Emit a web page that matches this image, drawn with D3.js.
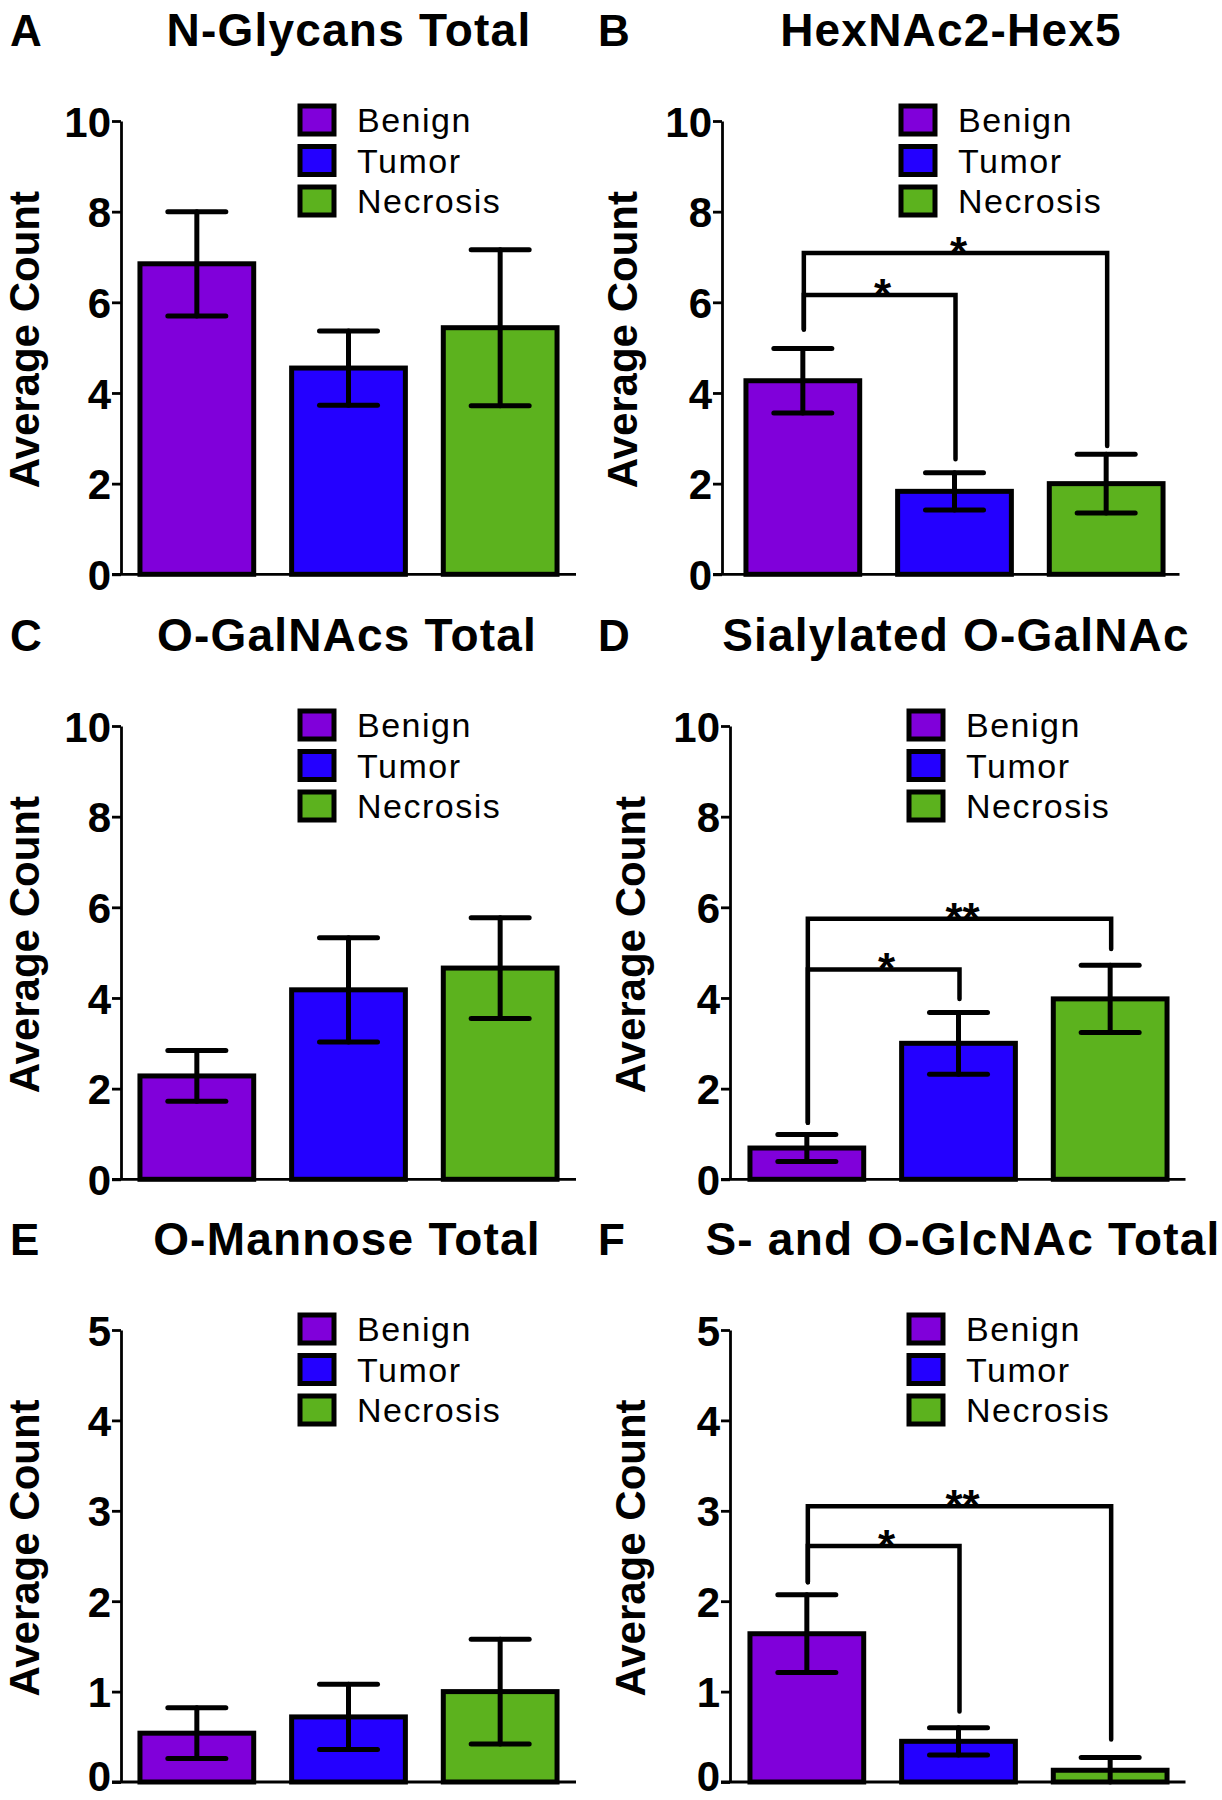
<!DOCTYPE html>
<html>
<head>
<meta charset="utf-8">
<script src="https://cdn.jsdelivr.net/npm/d3@7"></script>
<style>
  html, body { margin: 0; padding: 0; background: #fff; }
  svg text { font-family: "Liberation Sans", Arial, sans-serif; fill: #000; }
</style>
</head>
<body>
<svg id="chart" width="1222" height="1800"></svg>
<script>
// ---------- data ----------
const groups = ["Benign", "Tumor", "Necrosis"];
const groupColors = ["#8000da", "#2400ff", "#5cb21e"];

const panelLetters = ["A", "B", "C", "D", "E", "F"];
const panelTitles = ["N-Glycans Total", "HexNAc2-Hex5", "O-GalNAcs Total",
                     "Sialylated O-GalNAc", "O-Mannose Total", "S- and O-GlcNAc Total"];

const ticks10 = [0, 2, 4, 6, 8, 10];
const ticks5 = [0, 1, 2, 3, 4, 5];

const nGlycansMean = [6.85, 4.55, 5.44];
const nGlycansSem  = [1.15, 0.82, 1.72];

const hexNAc2Hex5Mean = [4.27, 1.83, 2.00];
const hexNAc2Hex5Sem  = [0.71, 0.41, 0.65];

const oGalNAcsMean = [2.28, 4.18, 4.66];
const oGalNAcsSem  = [0.56, 1.15, 1.11];

const sialylMean = [0.69, 3.00, 3.98];
const sialylSem  = [0.30, 0.68, 0.74];

const oMannoseMean = [0.54, 0.72, 1.00];
const oMannoseSem  = [0.28, 0.36, 0.58];

const glcNAcMean = [1.64, 0.45, 0.13];
const glcNAcSem  = [0.43, 0.15, 0.14];

// significance brackets: [fromGroup, toGroup, bracketY, leftLegEnd, rightLegEnd, label]
const bracketsB = [[0, 1, 6.16, 5.40, 2.54, "*"], [0, 2, 7.09, 5.40, 2.83, "*"]];
const bracketsD = [[0, 1, 4.63, 1.25, 3.98, "*"], [0, 2, 5.75, 1.25, 5.08, "**"]];
const bracketsF = [[0, 1, 2.61, 2.21, 0.78, "*"], [0, 2, 3.05, 2.21, 0.47, "**"]];

// ---------- layout ----------
const panels = [
  { mean: nGlycansMean,    sem: nGlycansSem,    ticks: ticks10, brackets: [],        ax: 121, barShift: 0, yTop: 121,  yBot: 574.3,  titleX: 349, titleY: 46,   letterX: 10 },
  { mean: hexNAc2Hex5Mean, sem: hexNAc2Hex5Sem, ticks: ticks10, brackets: bracketsB, ax: 722, barShift: 5, yTop: 121,  yBot: 574.3,  titleX: 951, titleY: 46,   letterX: 598 },
  { mean: oGalNAcsMean,    sem: oGalNAcsSem,    ticks: ticks10, brackets: [],        ax: 121, barShift: 0, yTop: 726,  yBot: 1179.3, titleX: 347, titleY: 651,  letterX: 10 },
  { mean: sialylMean,      sem: sialylSem,      ticks: ticks10, brackets: bracketsD, ax: 730, barShift: 1, yTop: 726,  yBot: 1179.3, titleX: 956, titleY: 651,  letterX: 598 },
  { mean: oMannoseMean,    sem: oMannoseSem,    ticks: ticks5,  brackets: [],        ax: 121, barShift: 0, yTop: 1330, yBot: 1782,   titleX: 347, titleY: 1255, letterX: 10 },
  { mean: glcNAcMean,      sem: glcNAcSem,      ticks: ticks5,  brackets: bracketsF, ax: 730, barShift: 1, yTop: 1330, yBot: 1782,   titleX: 963, titleY: 1255, letterX: 598 }
];

const axisWidth = 455;
const svg = d3.select("#chart");

panels.forEach((p, i) => {
  const g = svg.append("g");
  const x = d3.scaleBand().domain(groups)
    .range([p.ax + p.barShift, p.ax + p.barShift + axisWidth])
    .paddingInner(0.25).paddingOuter(0.125);
  const yMax = d3.max(p.ticks);
  const y = d3.scaleLinear().domain([0, yMax]).range([p.yBot, p.yTop]);

  // panel letter and title
  g.append("text").attr("x", p.letterX).attr("y", p.titleY)
    .attr("font-size", 44).attr("font-weight", "bold").text(panelLetters[i]);
  g.append("text").attr("x", p.titleX).attr("y", p.titleY)
    .attr("text-anchor", "middle").attr("font-size", 46).attr("font-weight", "bold")
    .attr("letter-spacing", 1.2).text(panelTitles[i]);

  // y axis label
  const labelX = Math.max(p.ax - 85, 39);
  g.append("text")
    .attr("transform", `translate(${labelX},${(p.yTop + p.yBot) / 2 - 8}) rotate(-90)`)
    .attr("text-anchor", "middle").attr("font-size", 42).attr("font-weight", "bold")
    .text("Average Count");

  // bars
  g.selectAll("rect.bar").data(groups).enter().append("rect")
    .attr("class", "bar")
    .attr("x", d => x(d))
    .attr("width", x.bandwidth())
    .attr("y", (d, j) => y(p.mean[j]))
    .attr("height", (d, j) => y(0) - y(p.mean[j]))
    .attr("fill", (d, j) => groupColors[j])
    .attr("stroke", "#000").attr("stroke-width", 5);

  // error bars
  const capHalf = 29;
  groups.forEach((d, j) => {
    const cx = x(d) + x.bandwidth() / 2;
    const lo = Math.max(0, p.mean[j] - p.sem[j]);
    const hi = p.mean[j] + p.sem[j];
    const eg = g.append("g").attr("stroke", "#000").attr("stroke-width", 5).attr("stroke-linecap", "round");
    eg.append("line").attr("x1", cx).attr("x2", cx).attr("y1", y(lo)).attr("y2", y(hi));
    eg.append("line").attr("x1", cx - capHalf).attr("x2", cx + capHalf).attr("y1", y(hi)).attr("y2", y(hi));
    if (p.mean[j] - p.sem[j] > 0) {
      eg.append("line").attr("x1", cx - capHalf).attr("x2", cx + capHalf).attr("y1", y(lo)).attr("y2", y(lo));
    }
  });

  // y axis
  const yAxis = d3.axisLeft(y).tickValues(p.ticks).tickSize(9).tickSizeOuter(0).tickPadding(1)
    .tickFormat(d3.format("d"));
  const ag = g.append("g").attr("transform", `translate(${p.ax},0)`).call(yAxis);
  ag.select(".domain").attr("stroke", "#000").attr("stroke-width", 2.8);
  ag.selectAll(".tick line").attr("stroke", "#000").attr("stroke-width", 2.8);
  ag.selectAll(".tick text").attr("font-size", 42).attr("font-weight", "bold")
    .attr("font-family", "Liberation Sans, Arial, sans-serif").attr("fill", "#000")
    .attr("dy", d => {
      // keep the lowest label inside the picture
      const base = y(d) + 0.36 * 42;
      return (base > 1790 ? (1790 - y(d)) : 0.36 * 42) + "px";
    });

  // x axis baseline
  const xr = x.range();
  g.append("line").attr("x1", p.ax - 9).attr("x2", xr[1] - p.barShift / 2).attr("y1", y(0)).attr("y2", y(0))
    .attr("stroke", "#000").attr("stroke-width", 2.8);

  // significance brackets
  p.brackets.forEach(b => {
    const x1 = x(groups[b[0]]) + x.bandwidth() / 2 + 1;
    const x2 = x(groups[b[1]]) + x.bandwidth() / 2 + 1;
    const yb = y(b[2]);
    g.append("path")
      .attr("d", `M${x1},${y(b[3])}L${x1},${yb}L${x2},${yb}L${x2},${y(b[4])}`)
      .attr("fill", "none").attr("stroke", "#000").attr("stroke-width", 4.5)
      .attr("stroke-linecap", "round").attr("stroke-linejoin", "miter");
    g.append("text").attr("x", (x1 + x2) / 2 + 3).attr("y", yb + 15)
      .attr("text-anchor", "middle").attr("font-size", 44).attr("font-weight", "bold")
      .text(b[5]);
  });

  // legend
  const lg = g.append("g");
  groups.forEach((d, j) => {
    const cy = p.yTop - 1 + j * 40.5;
    lg.append("rect").attr("x", p.ax + 179).attr("y", cy - 14).attr("width", 34).attr("height", 28)
      .attr("fill", groupColors[j]).attr("stroke", "#000").attr("stroke-width", 5);
    lg.append("text").attr("x", p.ax + 236).attr("y", cy + 12)
      .attr("font-size", 34).attr("letter-spacing", 1.5).text(d);
  });
});
</script>
</body>
</html>
